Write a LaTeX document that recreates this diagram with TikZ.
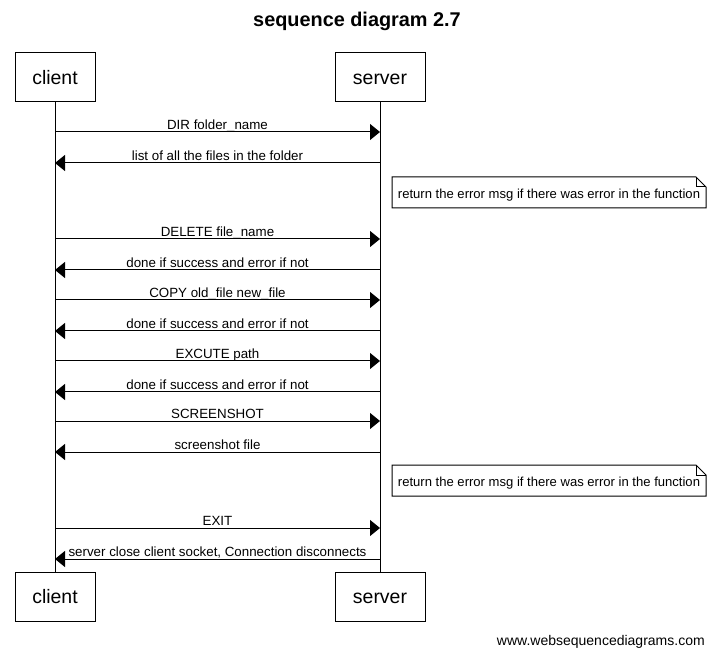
\documentclass[tikz,border=0pt]{standalone}
\usepackage{fontspec}
\setmainfont{Liberation Sans}
\usetikzlibrary{arrows.meta}
\begin{document}
\begin{tikzpicture}[x=0.75pt,y=-0.75pt,
  actor/.style={draw,line width=0.75pt,minimum width=60pt,minimum height=36.75pt,inner sep=0pt,text height=13pt,text depth=2pt,font=\fontsize{14.6}{18}\selectfont},
  msg/.style={line width=0.75pt,-{Triangle[length=7.5pt,width=12pt]}},
  lbl/.style={font=\fontsize{10}{12}\selectfont,inner sep=0pt,anchor=base,yshift=1.8pt},
  life/.style={line width=0.75pt}]
\useasboundingbox (0,0) rectangle (715,656);
\fill[white] (0,0) rectangle (715,656);
\node[font=\bfseries\fontsize{14.9}{18}\selectfont] (title) at (357,21.5) {sequence diagram 2.7};
\node[actor] (ct) at (55,77.5) {client};
\node[actor,minimum width=67.5pt] (st) at (380,77.5) {server};
\node[actor] (cb) at (55,596.5) {client};
\node[actor,minimum width=67.5pt] (sb) at (380,596.5) {server};
\draw[life] (ct.south) -- (cb.north);
\draw[life] (st.south) -- (sb.north);
% message coordinates
\foreach \n/\y in {1/132,2/163,4/239,5/270,6/300,7/331,8/361,9/392,10/421,11/452,13/528,14/559}{
  \coordinate (c\n) at (55,\y);
  \coordinate (s\n) at (380,\y);
}
\draw[msg] (c1) -- (s1) node[lbl,midway] {DIR folder\_name};
\draw[msg] (s2) -- (c2) node[lbl,midway] {list of all the files in the folder};
\draw[msg] (c4) -- (s4) node[lbl,midway] {DELETE file\_name};
\draw[msg] (s5) -- (c5) node[lbl,midway] {done if success and error if not};
\draw[msg] (c6) -- (s6) node[lbl,midway] {COPY old\_file new\_file};
\draw[msg] (s7) -- (c7) node[lbl,midway] {done if success and error if not};
\draw[msg] (c8) -- (s8) node[lbl,midway] {EXCUTE path};
\draw[msg] (s9) -- (c9) node[lbl,midway] {done if success and error if not};
\draw[msg] (c10) -- (s10) node[lbl,midway] {SCREENSHOT};
\draw[msg] (s11) -- (c11) node[lbl,midway] {screenshot file};
\draw[msg] (c13) -- (s13) node[lbl,midway] {EXIT};
\draw[msg] (s14) -- (c14) node[lbl,midway] {server close client socket, Connection disconnects};
% notes
\foreach \t/\nm in {177/n1,465/n2}{
  \fill[white] (392,\t) -- (696,\t) -- (706,\t+10) -- (706,\t+31) -- (392,\t+31) -- cycle;
  \draw[line width=0.75pt] (392,\t) -- (696,\t) -- (706,\t+10) -- (706,\t+31) -- (392,\t+31) -- cycle;
  \draw[line width=0.75pt] (696,\t) -- (696,\t+10) -- (706,\t+10);
  \node[font=\fontsize{9.8}{12}\selectfont,inner sep=0pt] (\nm) at (549,\t+18) {return the error msg if there was error in the function};
}
\node[font=\fontsize{10.5}{12}\selectfont,anchor=east,inner sep=0pt] (wsd) at (705,642) {www.websequencediagrams.com};
\end{tikzpicture}
\end{document}
